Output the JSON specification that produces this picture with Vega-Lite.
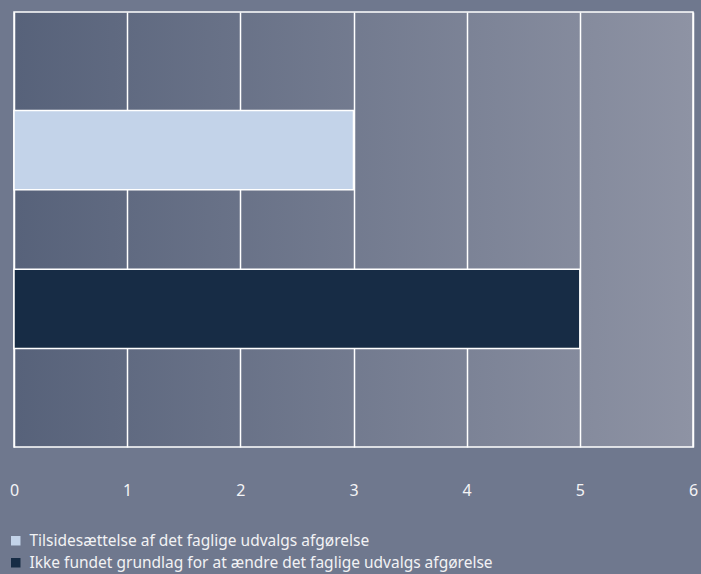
{
  "$schema": "https://vega.github.io/schema/vega-lite/v6.json",
  "width": 679,
  "height": 435,
  "autosize": {"type": "none"},
  "padding": {"left": 14, "top": 12, "right": 8, "bottom": 127},
  "background": "#6f788e",
  "config": {
    "view": {"stroke": "white", "strokeWidth": 1.5,
      "fill": {"gradient": "linear", "x1": 0, "y1": 0, "x2": 1, "y2": 0, "stops": [{"offset": 0, "color": "#57627a"}, {"offset": 1, "color": "#8e93a4"}]}},
    "font": "Noto Sans"
  },
  "data": {"values": [
    {"kategori": "Tilsidesættelse af det faglige udvalgs afgørelse", "antal": 3},
    {"kategori": "Ikke fundet grundlag for at ændre det faglige udvalgs afgørelse", "antal": 5}
  ]},
  "mark": {"type": "bar", "stroke": "white", "strokeWidth": 1.5},
  "encoding": {
    "y": {"field": "kategori", "type": "nominal", "sort": null, "axis": null, "scale": {"paddingInner": 0.5, "paddingOuter": 0.62}},
    "x": {"field": "antal", "type": "quantitative", "scale": {"domain": [0, 6]},
      "axis": {"values": [0, 1, 2, 3, 4, 5, 6], "grid": true, "gridColor": "white", "gridWidth": 1.5, "gridOpacity": 1, "domain": false, "ticks": false, "labelColor": "#f4f4f6", "labelFontSize": 16, "labelPadding": 35, "title": null, "labelFlush": false}},
    "color": {"field": "kategori", "type": "nominal", "sort": null, "scale": {"range": ["#C3D3E9", "#172C45"]},
      "legend": {"orient": "none", "legendX": -6, "legendY": 521, "title": null, "symbolType": "square", "symbolSize": 90, "symbolStrokeWidth": 0, "symbolOpacity": 1, "labelColor": "#f2f2f4", "labelFontSize": 15.5, "labelLimit": 700, "rowPadding": 5, "labelOffset": 6}}
  }
}
